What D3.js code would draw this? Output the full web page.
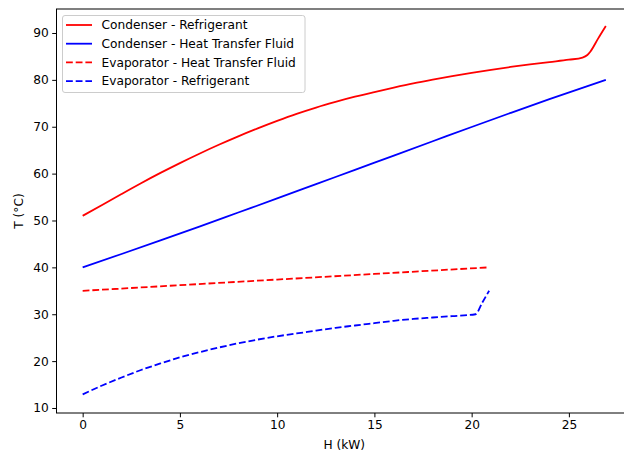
<!DOCTYPE html>
<html>
<head>
<meta charset="utf-8">
<script src="https://cdn.jsdelivr.net/npm/d3@7"></script>
<style>
  html, body { margin: 0; padding: 0; background: #fff; }
  svg { display: block; }
  text { font-family: "DejaVu Sans", sans-serif; }
</style>
</head>
<body>
<script>
// ---- data ----
const condRefH = [0,1,2,3,4,5,6,7,8,9,10,11,12,13,14,15,16,17,18,19,20,21,22,23,24,25,25.7,25.95,26.1,26.5,26.9];
const condRefT = [51.0,53.3,55.65,57.95,60.15,62.25,64.25,66.15,67.95,69.65,71.25,72.75,74.1,75.3,76.4,77.4,78.35,79.25,80.05,80.8,81.5,82.15,82.75,83.3,83.8,84.3,84.75,85.3,86.0,88.8,91.5];

const condHtfH = [0,2,4,6,8,10,12,14,16,18,20,22,24,26.9];
const condHtfT = [40.0,42.85,45.75,48.7,51.7,54.7,57.75,60.8,63.85,66.9,69.95,72.95,75.9,80.0];

const evapHtfH = [0,5,10,15,20.9];
const evapHtfT = [35.0,36.2,37.4,38.6,40.0];

const evapRefH = [0,1,2,3,4,5,6,7,8,9,10,11,12,13,14,15,16,17,18,19,20.2,20.55,20.9];
const evapRefT = [12.9,14.8,16.5,18.1,19.5,20.8,21.9,22.9,23.8,24.6,25.3,25.9,26.5,27.1,27.6,28.1,28.6,29.0,29.3,29.6,30.0,32.5,35.0];

const xTicks = [0,5,10,15,20,25];
const yTicks = [10,20,30,40,50,60,70,80,90];

const seriesNames = ["Condenser - Refrigerant","Condenser - Heat Transfer Fluid","Evaporator - Heat Transfer Fluid","Evaporator - Refrigerant"];
const seriesColors = ["#ff0000","#0000ff","#ff0000","#0000ff"];
const seriesDashed = [false,false,true,true];

const xLabel = "H (kW)";
const yLabel = "T (°C)";

// ---- chart ----
(function(){
const W = 624, Hh = 452;
const pLeft = 56.5, pRight = 632, pTop = 9, pBottom = 413;
const fs = 12.2;
const lw = 1.8;

const svg = d3.select("body").append("svg").attr("width", W).attr("height", Hh);

const x = d3.scaleLinear().domain([-1.345, 28.245]).range([pLeft, pRight]);
const y = d3.scaleLinear().domain([8.93, 95.12]).range([pBottom, pTop]);

const series = [
  condRefH.map((h,i)=>[h,condRefT[i]]),
  condHtfH.map((h,i)=>[h,condHtfT[i]]),
  evapHtfH.map((h,i)=>[h,evapHtfT[i]]),
  evapRefH.map((h,i)=>[h,evapRefT[i]])
];

const line = d3.line().x(d=>x(d[0])).y(d=>y(d[1])).curve(d3.curveMonotoneX);

series.forEach((s,i)=>{
  svg.append("path").datum(s)
    .attr("d", line)
    .attr("fill","none")
    .attr("stroke", seriesColors[i])
    .attr("stroke-width", lw)
    .attr("stroke-linejoin","round")
    .attr("stroke-dasharray", seriesDashed[i] ? "6.8,2.9" : null);
});

const xAxis = d3.axisBottom(x).tickValues(xTicks).tickSize(4.3).tickPadding(3.5).tickFormat(d3.format("d"));
const yAxis = d3.axisLeft(y).tickValues(yTicks).tickSize(4.3).tickPadding(3.5).tickFormat(d3.format("d"));

const gx = svg.append("g").attr("transform", `translate(0,${pBottom})`).call(xAxis);
const gy = svg.append("g").attr("transform", `translate(${pLeft},0)`).call(yAxis);
[gx, gy].forEach(g=>{
  g.select(".domain").remove();
  g.selectAll(".tick line").attr("stroke","#000").attr("stroke-width",1);
  g.selectAll(".tick text").attr("fill","#000").style("font-size", fs+"px").style("font-family","DejaVu Sans");
});

svg.append("rect").attr("x", pLeft).attr("y", pTop).attr("width", pRight-pLeft).attr("height", pBottom-pTop)
  .attr("fill","none").attr("stroke","#000").attr("stroke-width",1);

svg.append("text").attr("x", (pLeft+pRight)/2).attr("y", 449)
  .attr("text-anchor","middle").style("font-size", fs+"px").attr("fill","#000").text(xLabel);
svg.append("text").attr("transform", `translate(23,${(pTop+pBottom)/2}) rotate(-90)`)
  .attr("text-anchor","middle").style("font-size", fs+"px").attr("fill","#000").text(yLabel);

const lg = svg.append("g");
lg.append("rect").attr("x", 62.5).attr("y", 15.5).attr("width", 242.5).attr("height", 77)
  .attr("rx", 2.5).attr("fill","#fff").attr("fill-opacity",0.8).attr("stroke","#cccccc").attr("stroke-width",1);
seriesNames.forEach((name,i)=>{
  const cy = 25 + i*18.7;
  lg.append("line").attr("x1", 66).attr("x2", 92).attr("y1", cy).attr("y2", cy)
    .attr("stroke", seriesColors[i]).attr("stroke-width", lw)
    .attr("stroke-dasharray", seriesDashed[i] ? "6.8,2.9" : null);
  lg.append("text").attr("x", 101.5).attr("y", cy).attr("dy","0.35em")
    .style("font-size", fs+"px").attr("fill","#000").text(name);
});
})();
</script>
</body>
</html>
